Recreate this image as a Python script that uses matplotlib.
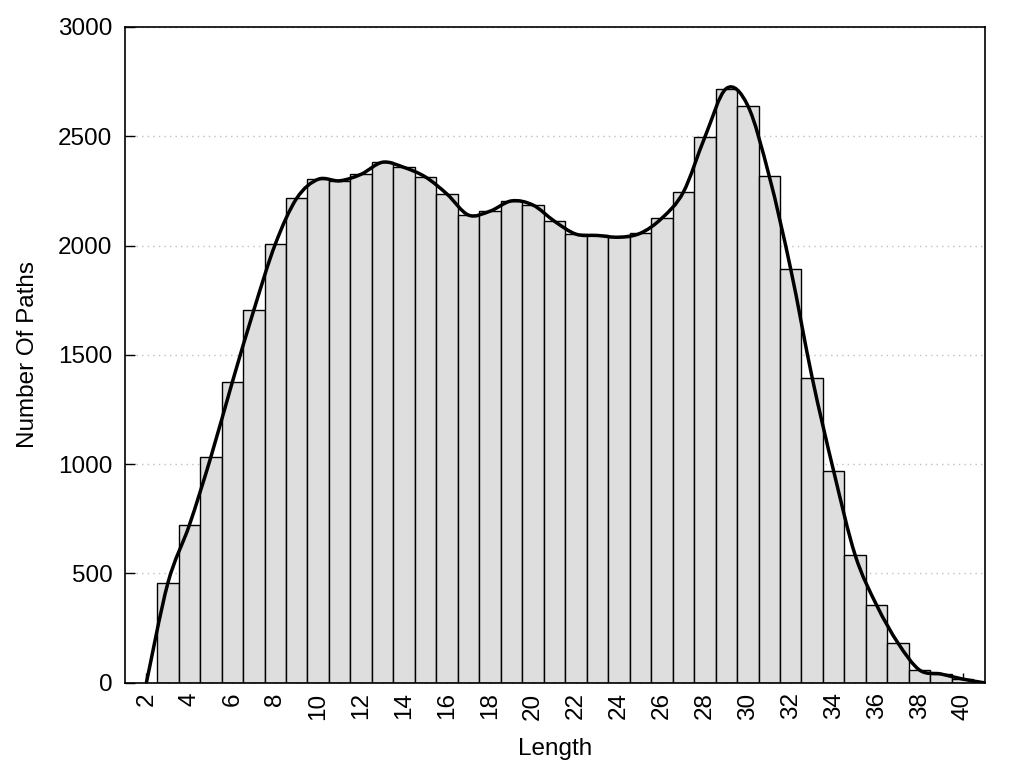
import numpy as np
import matplotlib
matplotlib.use('Agg')
import matplotlib.pyplot as plt
from matplotlib.path import Path
from matplotlib.patches import PathPatch

plt.rcParams['font.family'] = ['Liberation Sans', 'DejaVu Sans']

# path lengths and their counts
lengths = list(range(3, 41))
counts = [456, 721, 1032, 1375, 1704, 2006, 2216, 2303, 2296, 2326,
          2381, 2357, 2313, 2235, 2139, 2157, 2204, 2185, 2111, 2052,
          2046, 2038, 2056, 2125, 2244, 2495, 2718, 2640, 2317, 1892,
          1395, 968, 584, 355, 181, 58, 40, 17]

# smoothed trend line: starts at 0 at length 2, ends near 0 at 41
curve_x = [2] + lengths + [41]
curve_y = [0] + counts + [0]

xticks = list(range(2, 41, 2))
minor_xticks = list(range(3, 41, 2))
yticks = list(range(0, 3001, 500))


def smooth_path(xs, ys):
    # catmull-rom through the points, written as cubic bezier segments
    p = np.column_stack([xs, ys]).astype(float)
    p = np.vstack([p[0], p, p[-1]])
    verts = [p[1]]
    codes = [Path.MOVETO]
    for i in range(1, len(p) - 2):
        c1 = p[i] + (p[i + 1] - p[i - 1]) / 6.0
        c2 = p[i + 1] - (p[i + 2] - p[i]) / 6.0
        verts += [c1, c2, p[i + 1]]
        codes += [Path.CURVE4] * 3
    return Path(verts, codes)


def main():
    fig = plt.figure(figsize=(10.24, 7.68), dpi=100)
    ax = fig.add_axes([0.122, 0.111, 0.84, 0.854])

    ax.bar(lengths, counts, width=1.0, color='#dedede', edgecolor='black',
           linewidth=1.0, zorder=1)
    ax.add_patch(PathPatch(smooth_path(curve_x, curve_y), facecolor='none',
                           edgecolor='black', linewidth=2.5, zorder=3,
                           capstyle='round'))

    ax.set_xlim(1, 41.05)
    ax.set_ylim(0, 3000)
    ax.set_axisbelow(True)
    ax.yaxis.grid(True, linestyle=(0, (1, 3)), color='#c0c0c0', linewidth=1)

    ax.set_xticks(xticks)
    ax.set_xticks(minor_xticks, minor=True)
    ax.set_xticklabels([str(t) for t in xticks], rotation=90)
    ax.set_yticks(yticks)
    ax.tick_params(axis='both', which='both', direction='in', length=7,
                   width=1, labelsize=17.5, top=False, right=False)
    ax.tick_params(axis='y', pad=9)
    ax.tick_params(axis='x', pad=7)

    for s in ax.spines.values():
        s.set_linewidth(1.2)

    ax.set_xlabel('Length', fontsize=17.5, labelpad=13)
    ax.set_ylabel('Number Of Paths', fontsize=17.5, labelpad=14)

    fig.savefig('out.png', dpi=100)


if __name__ == '__main__':
    main()
